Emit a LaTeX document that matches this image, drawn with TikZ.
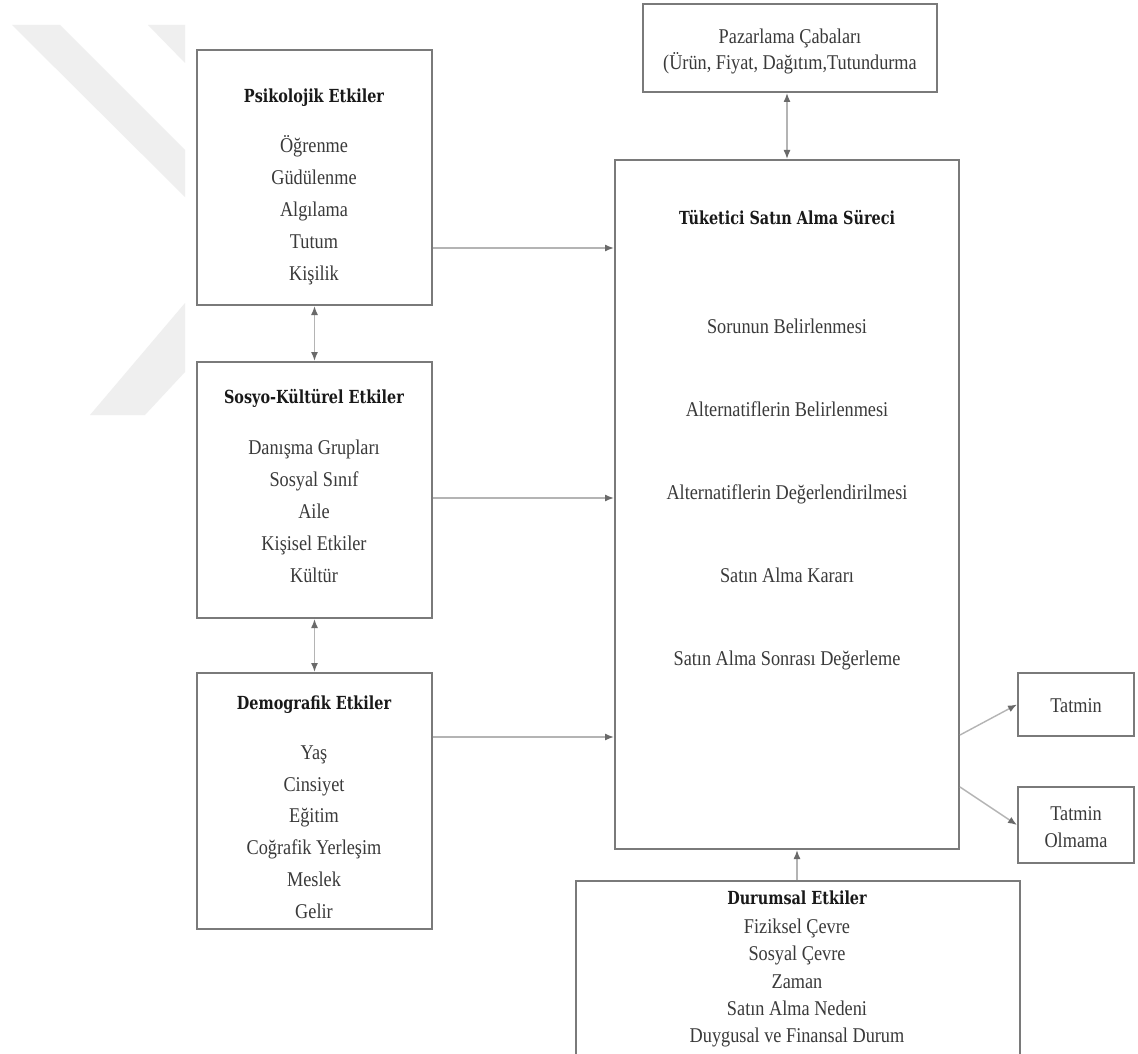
\documentclass[tikz,border=0pt]{standalone}
\usepackage{fontspec}
\setmainfont{Liberation Serif}[FakeStretch=0.87]
\newfontfamily\slab{DejaVu Serif}[FakeStretch=0.8]
\usetikzlibrary{arrows.meta}
\definecolor{boxline}{HTML}{7A7A7A}
\definecolor{arrline}{HTML}{B4B4B4}
\definecolor{arrhead}{HTML}{6A6A6A}
\definecolor{wmark}{HTML}{EFEFEF}
\definecolor{bodytext}{HTML}{3A3A3A}
\tikzset{
  box/.style={draw=boxline, line width=2pt, fill=white, rectangle, inner sep=0pt},
  ttl/.style={font=\slab\bfseries\fontsize{18}{20}\selectfont, text=black!90, inner sep=0pt},
  itemsA/.style={font=\fontsize{21}{32}\selectfont, text=bodytext, align=center, inner sep=0pt},
  itemsB/.style={font=\fontsize{21}{27.4}\selectfont, text=bodytext, align=center, inner sep=0pt},
  itemsC/.style={font=\fontsize{21}{83}\selectfont, text=bodytext, align=center, inner sep=0pt},
  conn/.style={draw=arrline, line width=1.4pt, -{Latex[length=9pt,width=7pt,fill=arrhead,color=arrhead]}},
  bconn/.style={draw=arrline, line width=1.4pt, {Latex[length=9pt,width=7pt,fill=arrhead,color=arrhead]}-{Latex[length=9pt,width=7pt,fill=arrhead,color=arrhead]}}
}
\begin{document}
\begin{tikzpicture}[x=1pt,y=-1pt]
\useasboundingbox (0,0) rectangle (1138,1054);
\fill[white] (0,0) rectangle (1138,1054);
% watermark stripes
\fill[wmark] (12,25) -- (60,25) -- (185,150) -- (185,197) -- cycle;
\fill[wmark] (148,25) -- (185,25) -- (185,63) -- cycle;
\fill[wmark] (90,415) -- (145,415) -- (185,372) -- (185,303) -- cycle;

% boxes
\node[box, minimum width=235pt, minimum height=255pt] (psi) at (314.5,177.5) {};
\node[box, minimum width=235pt, minimum height=256pt] (sos) at (314.5,490) {};
\node[box, minimum width=235pt, minimum height=256pt] (dem) at (314.5,801) {};
\node[box, minimum width=294pt, minimum height=88pt] (paz) at (790,48) {};
\node[box, minimum width=344pt, minimum height=689pt] (main) at (787,504.5) {};
\node[box, minimum width=116pt, minimum height=63pt] (tat) at (1076,704.5) {};
\node[box, minimum width=116pt, minimum height=76pt] (tato) at (1076,825) {};
\node[box, minimum width=444pt, minimum height=180pt] (dur) at (798,971) {};

% texts
\node[ttl] (psiT) at (314,98) {Psikolojik Etkiler};
\node[itemsA] (psiI) at (314,210) {Öğrenme\\Güdülenme\\Algılama\\Tutum\\Kişilik};
\node[ttl] (sosT) at (314,398) {Sosyo-Kültürel Etkiler};
\node[itemsA] (sosI) at (314,511) {Danışma Grupları\\Sosyal Sınıf\\Aile\\Kişisel Etkiler\\Kültür};
\node[ttl] (demT) at (314,705) {Demografik Etkiler};
\node[itemsA, font=\fontsize{21}{31.8}\selectfont] (demI) at (314,832) {Yaş\\Cinsiyet\\Eğitim\\Coğrafik Yerleşim\\Meslek\\Gelir};
\node[itemsB, font=\fontsize{21}{26}\selectfont] (pazI) at (790,51) {Pazarlama Çabaları\\(Ürün, Fiyat, Dağıtım,Tutundurma};
\node[ttl] (mainT) at (787,218) {Tüketici Satın Alma Süreci};
\node[itemsC] (mainI) at (787,494) {Sorunun Belirlenmesi\\Alternatiflerin Belirlenmesi\\Alternatiflerin Değerlendirilmesi\\Satın Alma Kararı\\Satın Alma Sonrası Değerleme};
\node[itemsA] (tatI) at (1076,706) {Tatmin};
\node[itemsB] (tatoI) at (1076,827) {Tatmin\\Olmama};
\node[ttl] (durT) at (797,898) {Durumsal Etkiler};
\node[itemsB] (durI) at (797,983) {Fiziksel Çevre\\Sosyal Çevre\\Zaman\\Satın Alma Nedeni\\Duygusal ve Finansal Durum};

% connectors
\draw[bconn] (psi.south) -- (sos.north);
\draw[bconn] (sos.south) -- (dem.north);
\draw[bconn] (paz.south -| main.north) -- (main.north);
\draw[conn] (psi.east |- 0,248) -- (main.west |- 0,248);
\draw[conn] (sos.east |- 0,498) -- (main.west |- 0,498);
\draw[conn] (dem.east |- 0,737) -- (main.west |- 0,737);
\draw[conn] (dur.north -| 797,0) -- (main.south -| 797,0);
\draw[conn] (main.east |- 0,735) -- (tat.west);
\draw[conn] (main.east |- 0,787) -- (tato.west);
\end{tikzpicture}
\end{document}
